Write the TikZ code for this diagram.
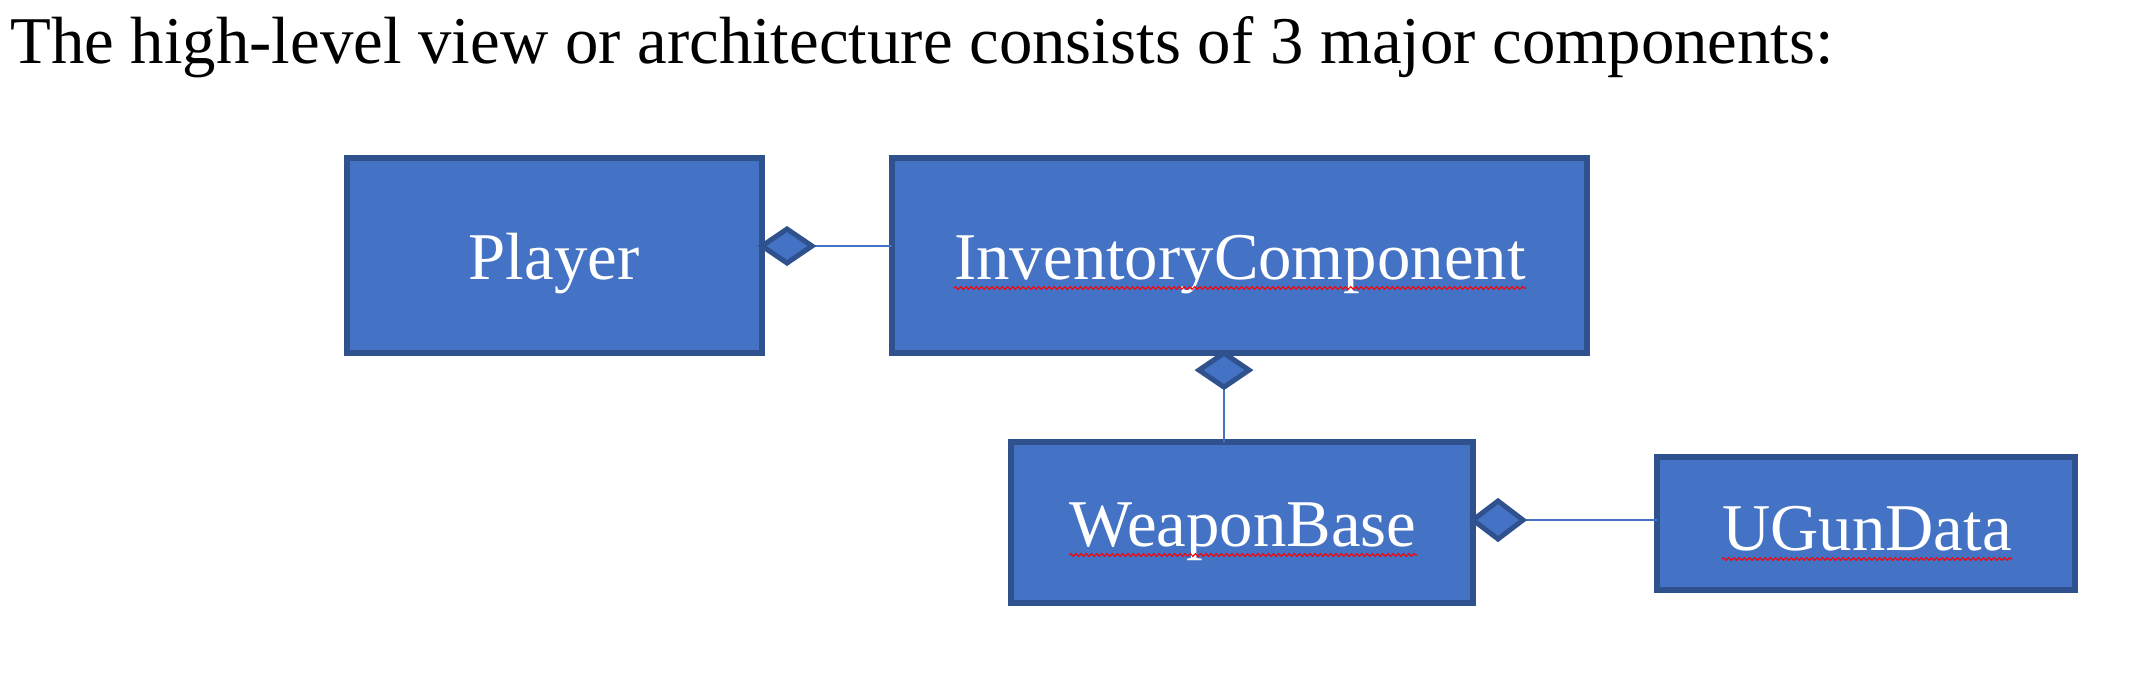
\documentclass[tikz,border=0pt]{standalone}
\usepackage{fontspec}
\setmainfont{Liberation Serif}
\usetikzlibrary{decorations.pathmorphing}
\definecolor{boxfill}{HTML}{4472C4}
\definecolor{boxline}{HTML}{2F528F}
\tikzset{
  box/.style={draw=boxline, fill=boxfill, line width=2.85pt, inner sep=0pt, outer sep=0pt},
  lbl/.style={text=white, inner sep=0pt, anchor=base, font=\fontsize{33.4}{40}\selectfont},
  conn/.style={draw=boxfill, line width=1.35pt},
  diam/.style={draw=boxline, fill=boxfill, line width=2.5pt, line join=miter},
  squig/.style={draw=red, line width=0.55pt, decorate, decoration={snake, segment length=2.6pt, amplitude=0.7pt}}
}
\begin{document}
\begin{tikzpicture}[x=0.5pt, y=-0.5pt]
\useasboundingbox (0,0) rectangle (2131,698);
\node[anchor=base west, inner sep=0pt, font=\fontsize{33.4}{40}\selectfont] (title) at (10,63) {The high-level view or architecture consists of 3 major components:};
% boxes
\node[box, minimum width=207.5pt, minimum height=97.6pt] (P) at (554.5,255.5) {};
\node[box, minimum width=347.6pt, minimum height=97.6pt] (IC) at (1239.5,255.5) {};
\node[box, minimum width=231pt, minimum height=80.6pt] (WB) at (1242,522.5) {};
\node[box, minimum width=209pt, minimum height=66.6pt] (UG) at (1866,523.5) {};
% labels
\node[lbl] (Pt) at (554,279) {Player};
\node[lbl] (ICt) at (1240,279) {InventoryComponent};
\node[lbl] (WBt) at (1243,546) {WeaponBase};
\node[lbl] (UGt) at (1867,550) {UGunData};
\draw[squig] ([yshift=-4.5pt]ICt.base west) -- ([yshift=-4.5pt]ICt.base east);
\draw[squig] ([yshift=-4.5pt]WBt.base west) -- ([yshift=-4.5pt]WBt.base east);
\draw[squig] ([yshift=-4.5pt]UGt.base west) -- ([yshift=-4.5pt]UGt.base east);
% connector 1
\coordinate (y1) at (0,246);
\coordinate (a1) at (P.east |- y1);
\coordinate (t1) at ([xshift=25pt]a1);
\draw[conn] (t1) -- (IC.west |- t1);
\draw[diam] (a1) -- ++(25,-17) -- ++(25,17) -- ++(-25,17) -- cycle;
% connector 2
\coordinate (x2) at (1224,0);
\coordinate (a2) at (x2 |- IC.south);
\coordinate (t2) at ([yshift=-17pt]a2);
\draw[conn] (t2) -- (WB.north -| t2);
\draw[diam] (a2) -- ++(25,17) -- ++(-25,17) -- ++(-25,-17) -- cycle;
% connector 3
\coordinate (y3) at (0,520);
\coordinate (a3) at (WB.east |- y3);
\coordinate (t3) at ([xshift=25pt]a3);
\draw[conn] (t3) -- (UG.west |- t3);
\draw[diam] (a3) -- ++(25,-19) -- ++(25,19) -- ++(-25,19) -- cycle;
\end{tikzpicture}
\end{document}
